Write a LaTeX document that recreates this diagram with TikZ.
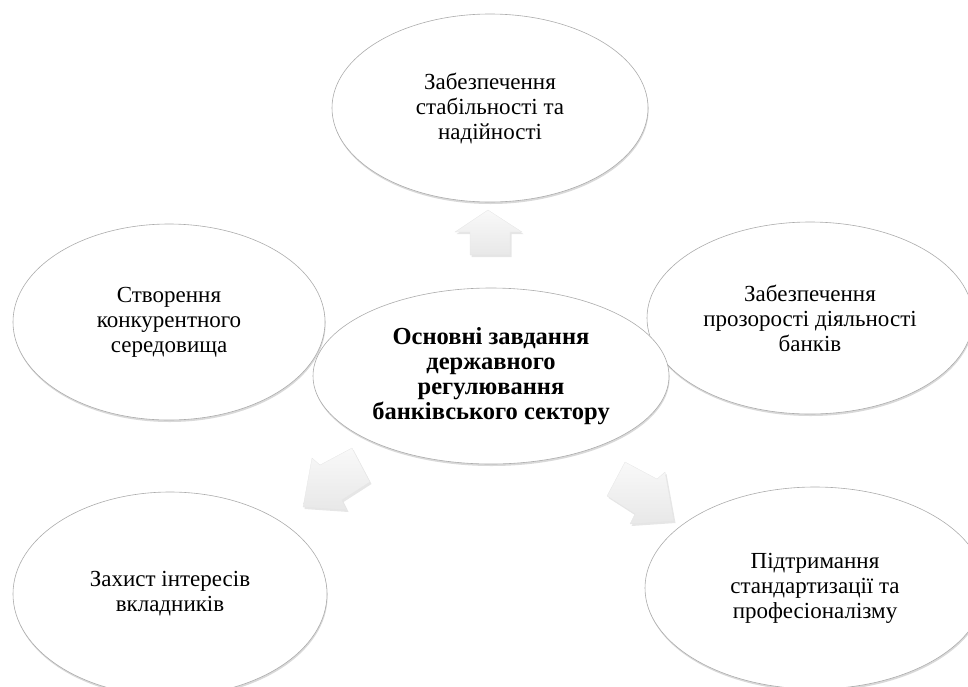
\documentclass[tikz,border=0pt]{standalone}
\usepackage{fontspec}
\setmainfont{Liberation Serif}
\usetikzlibrary{shapes.geometric,shadows}
\tikzset{
    goal/.style={ellipse, draw=gray!65, line width=0.6pt, fill=white, inner sep=0pt, align=center,
        drop shadow={shadow xshift=0.6pt, shadow yshift=-2pt, opacity=0.3}},
    blockarrow/.style={draw=gray!20, line width=0.3pt, top color=gray!5, bottom color=gray!18,
        drop shadow={shadow xshift=1.5pt, shadow yshift=-2pt, opacity=0.2}}
}
\begin{document}
\begin{tikzpicture}[x=1pt, y=-1pt, font=\fontsize{23}{25}\selectfont]
            \useasboundingbox (0,0) rectangle (968,686);

            \node[goal, minimum width=316pt, minimum height=188pt] (stab) at (490,108) {Забезпечення\\стабільності та\\надійності};
            \node[goal, minimum width=312pt, minimum height=196pt] (comp) at (169,322) {Створення\\конкурентного\\середовища};
            \node[goal, minimum width=326pt, minimum height=192pt] (transp) at (810,318) {Забезпечення\\прозорості діяльності\\банків};
            \node[goal, minimum width=314pt, minimum height=204pt] (depos) at (170,594) {Захист інтересів\\вкладників};
            \node[goal, minimum width=340pt, minimum height=202pt] (stand) at (815,588) {Підтримання\\стандартизації та\\професіоналізму};

            \draw[blockarrow] (470,255) -- (470,232) -- (455,232) -- (488,210) -- (522,232) -- (510,232) -- (510,255) -- cycle;
            \draw[blockarrow] (352,448) -- (320,465) -- (312,458) -- (303,507) -- (347,510) -- (342,500) -- (370,482) -- cycle;
            \draw[blockarrow] (625,462) -- (657,479) -- (665,472) -- (674,521) -- (630,524) -- (635,514) -- (607,496) -- cycle;

            \node[goal, minimum width=356pt, minimum height=176pt, font=\fontsize{24.5}{25}\selectfont\bfseries] (hub) at (491,376) {Основні завдання\\державного\\регулювання\\банківського сектору};
        \end{tikzpicture}
\end{document}
